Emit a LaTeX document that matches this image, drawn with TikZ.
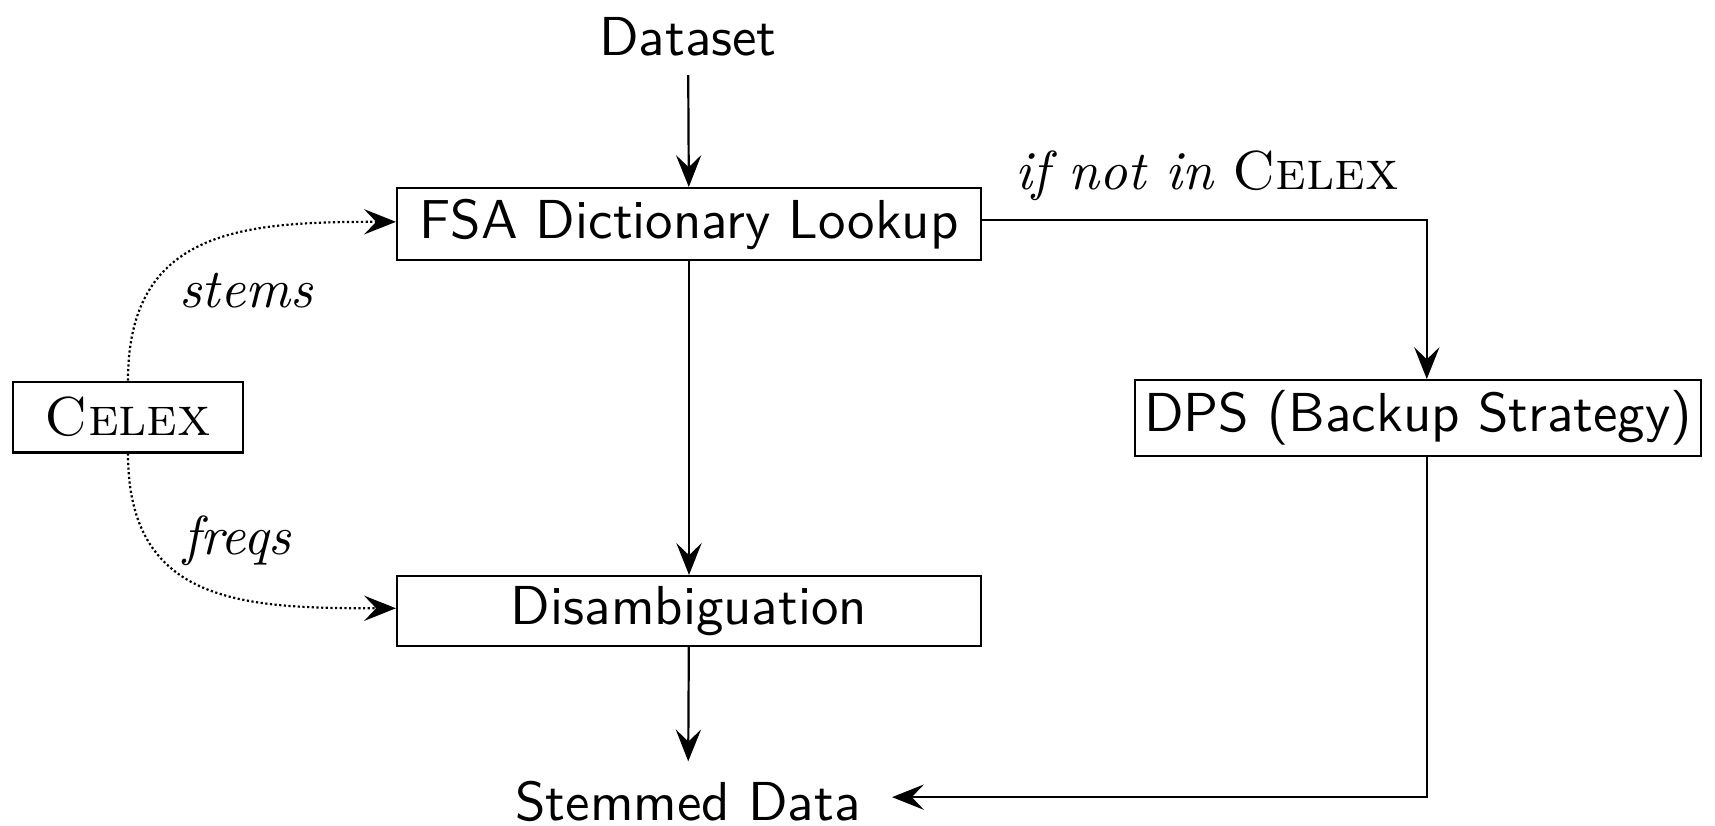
\documentclass[tikz,border=0pt]{standalone}
\usetikzlibrary{arrows.meta}
\begin{document}
\begin{tikzpicture}[x=0.1822pt,y=-0.1822pt,
  arr/.style={-{Stealth[length=5.8pt,width=4.6pt,inset=2.2pt]}, line width=0.4pt},
  boxnode/.style={draw, line width=0.4pt, inner sep=0pt, font=\sffamily},
  plain/.style={font=\sffamily},
  lbl/.style={font=\itshape},
  dots/.style={dash pattern=on 0.4pt off 0.45pt}]
\useasboundingbox (0,0) rectangle (1715,825);
\node[plain, anchor=base] (data) at (688,55) {Dataset};
\node[boxnode, minimum width=106.4pt, minimum height=13.1pt] (fsa) at (689,224) {FSA Dictionary Lookup};
\node[boxnode, minimum width=106.4pt, minimum height=12.75pt] (dis) at (689,611) {Disambiguation};
\node[plain, anchor=base] (stem) at (688,820) {Stemmed Data};
\node[boxnode, font=\rmfamily, minimum width=41.9pt, minimum height=12.9pt] (celex) at (128,417) {\textsc{Celex}};
\node[boxnode, minimum width=103.1pt, minimum height=13.8pt] (dps) at (1418,418) {DPS (Backup Strategy)};
\node[lbl] (stems) at (246,291) {stems};
\node[lbl] (freqs) at (237,541) {freqs};

\draw[arr] (data) -- (fsa);
\draw[arr] (fsa) -- (dis);
\draw[arr] (dis) -- (stem);
\draw[arr] ([yshift=0.7pt]fsa.east) -| node[above, pos=0.253] (ifnot) {\textit{if not in} \textsc{Celex}} ([xshift=1.6pt]dps.north);
\draw[arr, shorten >=2.2pt] ([xshift=1.6pt]dps.south) |- ([yshift=0.7pt]stem.east);
\draw[arr, dots] (celex.north) to[out=90,in=180,looseness=1.25] ([yshift=0.4pt]fsa.west);
\draw[arr, dots] (celex.south) to[out=-90,in=180,looseness=1.25] ([yshift=0.5pt]dis.west);
\end{tikzpicture}
\end{document}
